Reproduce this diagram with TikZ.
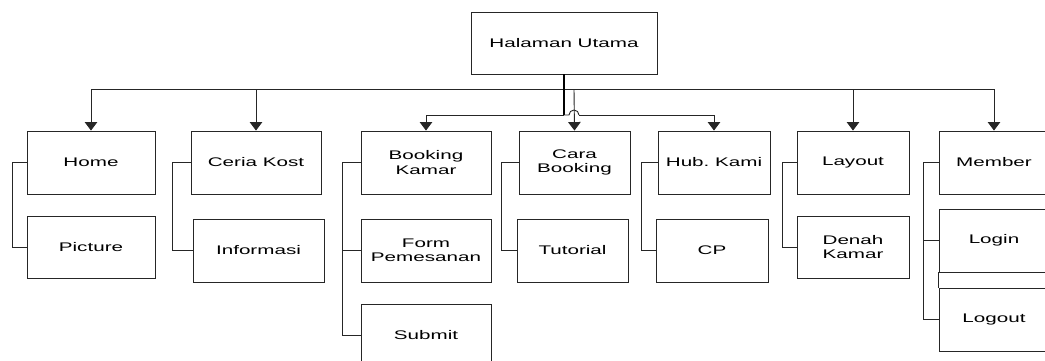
\documentclass[tikz,border=0pt]{standalone}
\usepackage{fontspec}
\setmainfont{Liberation Sans}[FakeStretch=1.65]
\usetikzlibrary{arrows.meta}
\frenchspacing
\begin{document}
\begin{tikzpicture}[x=1pt,y=-1pt,
  box/.style={draw=black!85,line width=0.9pt,rectangle,inner sep=0pt,align=center,
    font=\fontsize{12.5}{14.3}\selectfont},
  conn/.style={draw=black!85,line width=0.9pt},
  arr/.style={conn,-{Triangle[length=8.5pt,width=12.5pt]}}]
\useasboundingbox (0,0) rectangle (1045,360);
\fill[white] (0,0) rectangle (1045,360);
% top
\node[box,minimum width=186pt,minimum height=62pt] (top) at (564,43) {Halaman Utama};
% level 1
\node[box,minimum width=128pt,minimum height=63pt] (home) at (91,162.5) {Home};
\node[box,minimum width=128pt,minimum height=62pt] (picture) at (91,247) {Picture};
\node[box,minimum width=130pt,minimum height=63pt] (ceria) at (256,162.5) {Ceria Kost};
\node[box,minimum width=131pt,minimum height=63pt] (informasi) at (258.5,250.5) {Informasi};
\node[box,minimum width=130pt,minimum height=63pt] (booking) at (426,162.5) {Booking\\Kamar};
\node[box,minimum width=130pt,minimum height=63pt] (form) at (426,250.5) {Form\\Pemesanan};
\node[box,minimum width=130pt,minimum height=62pt] (submit) at (426,335) {Submit};
\node[box,minimum width=111pt,minimum height=63pt] (cara) at (574.5,162.5) {Cara\\Booking};
\node[box,minimum width=111pt,minimum height=63pt] (tutorial) at (572.5,250.5) {Tutorial};
\node[box,minimum width=112pt,minimum height=63pt] (hub) at (714,162.5) {Hub. Kami};
\node[box,minimum width=112pt,minimum height=63pt] (cp) at (712,250.5) {CP};
\node[box,minimum width=112pt,minimum height=63pt] (layout) at (853,162.5) {Layout};
\node[box,minimum width=112pt,minimum height=62pt] (denah) at (853,247) {Denah\\Kamar};
\node[box,minimum width=110pt,minimum height=63pt] (member) at (994,162.5) {Member};
\node[box,minimum width=110pt,minimum height=63pt] (login) at (994,240.5) {Login};
\node[box,minimum width=110pt,minimum height=63pt] (logout) at (994,319.5) {Logout};
\draw[conn] (login.south west) -- (logout.north west);
% outer bus
\coordinate (b1) at (574,89);
\draw[arr] (b1) -| (home.north);
\draw[arr] (b1) -| (ceria.north);
\draw[arr] (b1) -- (cara.north);
\draw[arr] (b1) -| (layout.north);
\draw[arr] (b1) -| (member.north);
% inner bus
\coordinate (j) at (564,115);
\coordinate (hopend) at (579,115);
\draw[draw=black,line width=2pt] (top.south) -- (j);
\draw[arr] (j) -| (booking.north);
\draw[conn] (j) -- ++(5,0) arc[start angle=180,end angle=0,radius=5pt];
\draw[arr] (hopend) -| (hub.north);
% brackets
\draw[conn] (home.west) -- ++(-14,0) |- (picture.west);
\draw[conn] (ceria.west) -- ++(-18,0) |- (informasi.west);
\draw[conn] (booking.west) -- ++(-18,0) |- (submit.west);
\draw[conn] (form.west) -- ++(-18,0);
\draw[conn] (cara.west) -- ++(-17,0) |- (tutorial.west);
\draw[conn] (hub.west) -- ++(-16,0) |- (cp.west);
\draw[conn] (layout.west) -- ++(-14,0) |- (denah.west);
\draw[conn] (member.west) -- ++(-15,0) |- (logout.west);
\draw[conn] (login.west) -- ++(-15,0);
\end{tikzpicture}
\end{document}
